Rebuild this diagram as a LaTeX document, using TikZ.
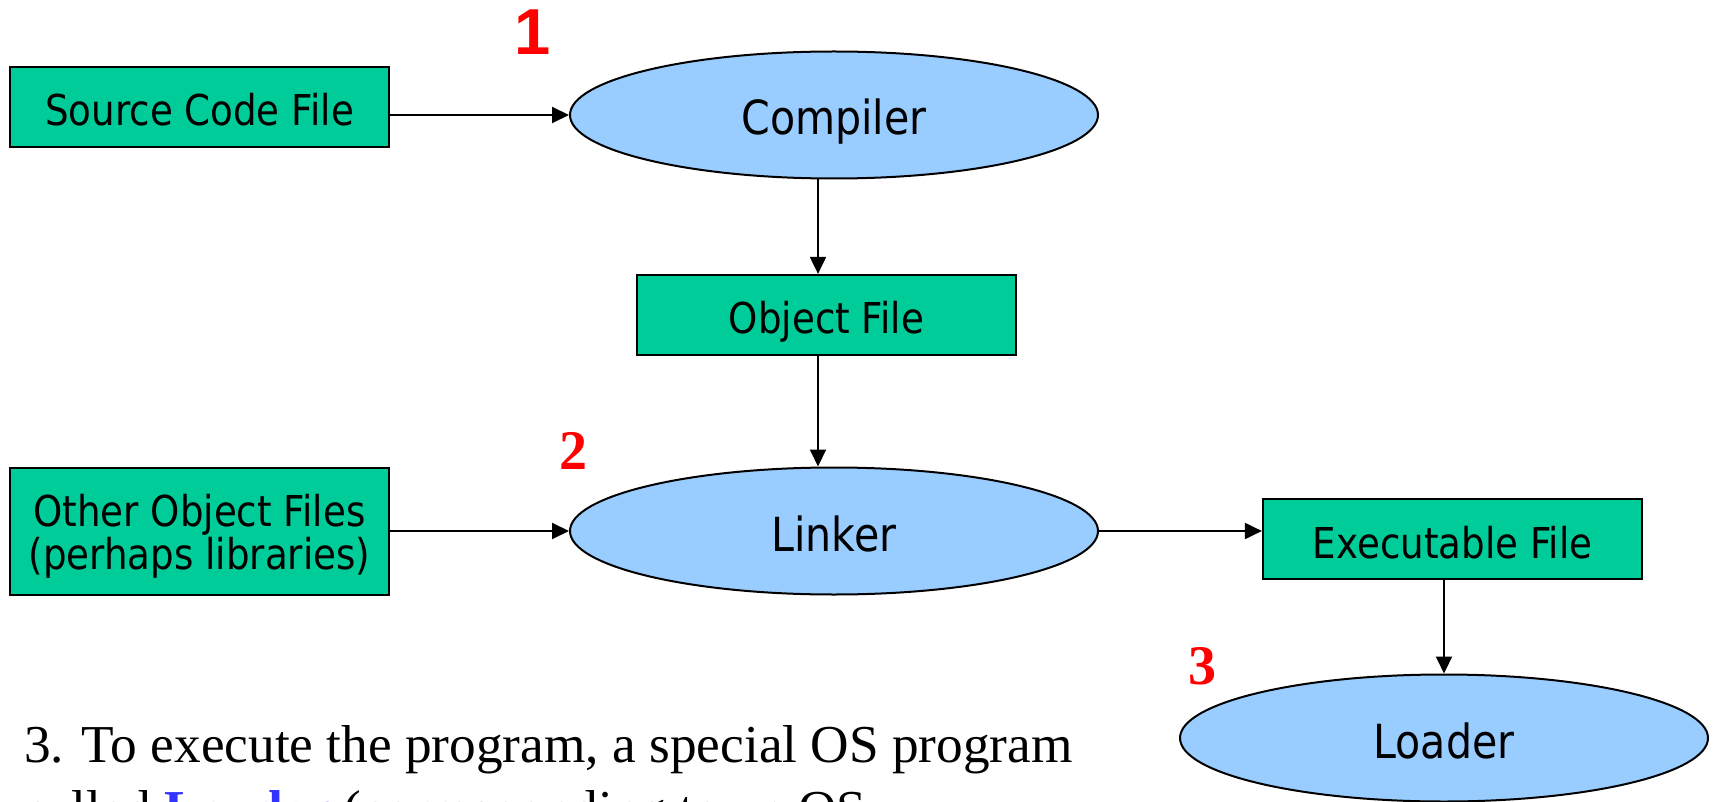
\documentclass[tikz,border=0pt]{standalone}
\usepackage{fontspec}
\usetikzlibrary{shapes.geometric,arrows.meta}
\setmainfont{Liberation Serif}
\newfontfamily\tfont[FakeStretch=0.875]{DejaVu Sans}
\newfontfamily\numfont{Liberation Sans}
\definecolor{boxgreen}{HTML}{00CC99}
\definecolor{ellblue}{HTML}{99CCFF}
\definecolor{numred}{HTML}{FF0000}
\definecolor{ldblue}{HTML}{3333FF}
\begin{document}
\begin{tikzpicture}[x=1pt,y=-1pt,
  filebox/.style={draw, line width=2.2pt, fill=boxgreen, inner sep=0pt, minimum width=379pt, font=\tfont\fontsize{42.5}{43}\selectfont, align=center},
  onebox/.style={filebox, minimum height=80pt, text height=38pt, text depth=0pt},
  proc/.style={ellipse, draw, line width=2pt, fill=ellblue, inner sep=0pt, minimum width=528pt, minimum height=127pt, text height=40pt, text depth=0pt, font=\tfont\fontsize{47}{47}\selectfont},
  arr/.style={line width=2pt, -{Triangle[length=17pt,width=16pt]}},
  stepnum/.style={text=numred, inner sep=0pt},
  bodytext/.style={anchor=base west, inner sep=0pt, font=\fontsize{53.3}{65}\selectfont}
]
\useasboundingbox (0,0) rectangle (1713,802);
\node[onebox] (src) at (199.5,107) {Source Code File};
\node[proc] (comp) at (834,115) {Compiler};
\node[onebox] (obj) at (826.5,315) {Object File};
\node[proc] (lnk) at (834,531) {Linker};
\node[filebox, minimum height=127pt] (oth) at (199.5,531.5) {\rule{0pt}{41pt}Other Object Files\\(perhaps libraries)};
\node[onebox] (exe) at (1452.5,539) {Executable File};
\node[proc] (load) at (1444,738) {Loader};
\node[stepnum, font=\numfont\bfseries\fontsize{65}{65}\selectfont] (n1) at (533,32) {1};
\node[stepnum, font=\bfseries\fontsize{56}{56}\selectfont] (n2) at (573,451) {2};
\node[stepnum, font=\bfseries\fontsize{56}{56}\selectfont] (n3) at (1202,666) {3};
\node[bodytext] (t1) at (24,762) {3. To execute the program, a special OS program};
\node[bodytext] (t2) at (24,827) {called \textcolor{ldblue}{\textbf{Loader}} (corresponding to an OS};
\coordinate (c1) at (818,0);
\draw[arr] (comp.west -| src.east) -- (comp.west);
\draw[arr] (comp.south -| c1) -- (obj.north -| c1);
\draw[arr] (obj.south -| c1) -- (lnk.north -| c1);
\draw[arr] (lnk.west -| oth.east) -- (lnk.west);
\draw[arr] (lnk.east) -- (lnk.east -| exe.west);
\draw[arr] (exe.south -| load.north) -- (load.north);
\end{tikzpicture}
\end{document}
